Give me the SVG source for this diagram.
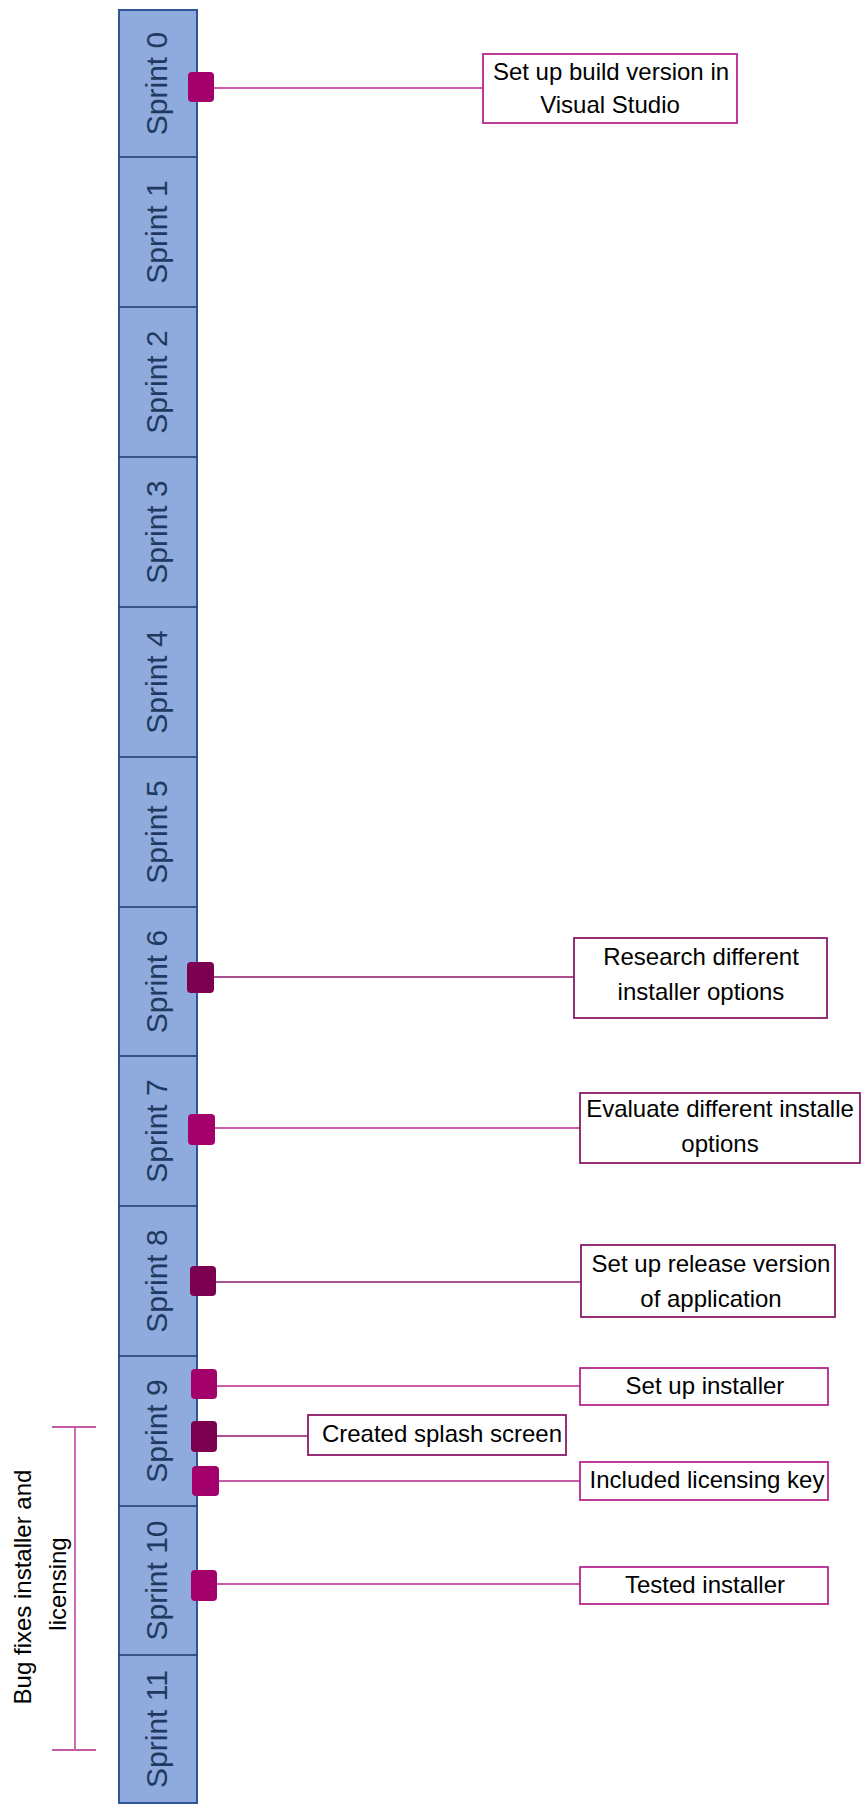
<svg xmlns="http://www.w3.org/2000/svg" width="864" height="1805" viewBox="0 0 864 1805">
<defs>
<style>
.col{fill:#8FAADC;stroke:#2F5597;stroke-width:2}
.div{stroke:#203864;stroke-width:1.5}
.sp{font-family:"Liberation Sans",Arial,sans-serif;font-size:30px;fill:#1F3A60;text-anchor:middle}
.mk{fill:#A3006B}
.mkd{fill:#7B004F}
.box{fill:#FFFFFF;stroke:#B8268E;stroke-width:1.8}
.boxd{fill:#FFFFFF;stroke:#8B1A6A;stroke-width:1.8}
.t{font-family:"Liberation Sans",Arial,sans-serif;font-size:24px;fill:#000000;text-anchor:middle}
.ln{stroke:#B8268E;stroke-width:1.5;fill:none}
.lnd{stroke:#8B1A6A;stroke-width:1.5;fill:none}
.lnl{stroke:#C85BA6;stroke-width:2;fill:none}
.br{stroke:#C45BA5;stroke-width:1.8;fill:none}
</style>
</defs>
<rect width="864" height="1805" fill="#FFFFFF"/>
<g id="timeline">
<rect class="col" x="119" y="10" width="78" height="1793"/>
<g class="div">
<line x1="119" y1="157" x2="197" y2="157"/>
<line x1="119" y1="307" x2="197" y2="307"/>
<line x1="119" y1="457" x2="197" y2="457"/>
<line x1="119" y1="607" x2="197" y2="607"/>
<line x1="119" y1="757" x2="197" y2="757"/>
<line x1="119" y1="907" x2="197" y2="907"/>
<line x1="119" y1="1056" x2="197" y2="1056"/>
<line x1="119" y1="1206" x2="197" y2="1206"/>
<line x1="119" y1="1356" x2="197" y2="1356"/>
<line x1="119" y1="1506" x2="197" y2="1506"/>
<line x1="119" y1="1655" x2="197" y2="1655"/>
</g>
<text class="sp" x="167" y="83.5" transform="rotate(-90 167 83.5)">Sprint 0</text>
<text class="sp" x="167" y="232" transform="rotate(-90 167 232)">Sprint 1</text>
<text class="sp" x="167" y="382" transform="rotate(-90 167 382)">Sprint 2</text>
<text class="sp" x="167" y="532" transform="rotate(-90 167 532)">Sprint 3</text>
<text class="sp" x="167" y="682" transform="rotate(-90 167 682)">Sprint 4</text>
<text class="sp" x="167" y="832" transform="rotate(-90 167 832)">Sprint 5</text>
<text class="sp" x="167" y="981.5" transform="rotate(-90 167 981.5)">Sprint 6</text>
<text class="sp" x="167" y="1131" transform="rotate(-90 167 1131)">Sprint 7</text>
<text class="sp" x="167" y="1281" transform="rotate(-90 167 1281)">Sprint 8</text>
<text class="sp" x="167" y="1431" transform="rotate(-90 167 1431)">Sprint 9</text>
<text class="sp" x="167" y="1580.5" transform="rotate(-90 167 1580.5)">Sprint 10</text>
<text class="sp" x="167" y="1729" transform="rotate(-90 167 1729)">Sprint 11</text>
</g>
<g id="connectors">
<line class="ln" x1="214" y1="88" x2="483" y2="88"/>
<line class="lnd" x1="214" y1="977" x2="574" y2="977"/>
<line class="ln" x1="215" y1="1128" x2="580" y2="1128"/>
<line class="lnd" x1="216" y1="1282" x2="581" y2="1282"/>
<line class="ln" x1="217" y1="1386" x2="580" y2="1386"/>
<line class="lnd" x1="217" y1="1436" x2="308" y2="1436"/>
<line class="lnl" x1="219" y1="1481" x2="580" y2="1481"/>
<line class="lnl" x1="217" y1="1584" x2="580" y2="1584"/>
</g>
<g id="markers">
<rect id="m0" class="mk" x="188" y="72" width="26" height="30" rx="4"/>
<rect id="m6" class="mkd" x="187" y="962" width="27" height="31" rx="4"/>
<rect id="m7" class="mk" x="188" y="1114" width="27" height="31" rx="4"/>
<rect id="m8" class="mkd" x="190" y="1266" width="26" height="30" rx="4"/>
<rect id="m9a" class="mk" x="191" y="1369" width="26" height="30" rx="4"/>
<rect id="m9b" class="mkd" x="191" y="1421" width="26" height="31" rx="4"/>
<rect id="m9c" class="mk" x="192" y="1466" width="27" height="30" rx="4"/>
<rect id="m10" class="mk" x="191" y="1570" width="26" height="31" rx="4"/>
</g>
<g id="n-build">
<rect class="box" x="483" y="54" width="254" height="69"/>
<text class="t" x="611" y="80">Set up build version in</text>
<text class="t" x="610" y="113">Visual Studio</text>
</g>
<g id="n-research">
<rect class="boxd" x="574" y="938" width="253" height="80"/>
<text class="t" x="701" y="965">Research different</text>
<text class="t" x="701" y="1000">installer options</text>
</g>
<g id="n-evaluate">
<rect class="boxd" x="580" y="1093" width="280" height="70"/>
<text class="t" x="720" y="1117">Evaluate different installe</text>
<text class="t" x="720" y="1152">options</text>
</g>
<g id="n-release">
<rect class="boxd" x="581" y="1245" width="254" height="72"/>
<text class="t" x="711" y="1272">Set up release version</text>
<text class="t" x="711" y="1307">of application</text>
</g>
<g id="n-installer">
<rect class="box" x="580" y="1368" width="248" height="37"/>
<text class="t" x="705" y="1394">Set up installer</text>
</g>
<g id="n-splash">
<rect class="boxd" x="308" y="1415" width="258" height="40"/>
<text class="t" x="442" y="1442">Created splash screen</text>
</g>
<g id="n-licensing">
<rect class="box" x="580" y="1462" width="248" height="38"/>
<text class="t" x="707" y="1488">Included licensing key</text>
</g>
<g id="n-tested">
<rect class="box" x="580" y="1567" width="248" height="37"/>
<text class="t" x="705" y="1593">Tested installer</text>
</g>
<g id="bracket">
<line class="br" x1="75" y1="1427" x2="75" y2="1750"/>
<line class="br" x1="52" y1="1427" x2="96" y2="1427"/>
<line class="br" x1="52" y1="1750" x2="96" y2="1750"/>
<text class="t" x="31" y="1587" transform="rotate(-90 31 1587)">Bug fixes installer and</text>
<text class="t" x="66" y="1584" transform="rotate(-90 66 1584)">licensing</text>
</g>
</svg>
